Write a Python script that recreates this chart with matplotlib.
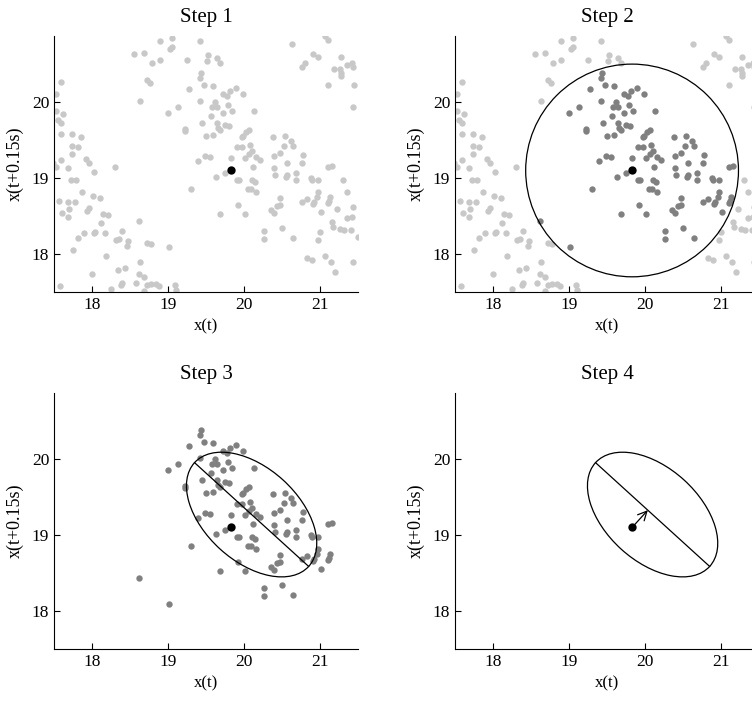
import numpy as np
import matplotlib
matplotlib.use("Agg")
import matplotlib.pyplot as plt
from matplotlib.patches import Circle, Ellipse, FancyArrowPatch

plt.rcParams['font.family'] = ['Liberation Serif', 'DejaVu Serif']

# delay-embedded trajectory points: (x(t), x(t+0.15s))
embedded = np.array([
    # left side
    (17.59,20.26),(17.52,20.10),(17.52,19.88),(17.62,19.84),(17.55,19.76),(17.59,19.72),
    (17.59,19.58),(17.74,19.58),(17.86,19.54),(17.74,19.42),(17.82,19.41),(17.74,19.32),
    (17.59,19.24),(17.92,19.25),(17.96,19.20),(17.49,19.20),(17.52,19.15),(17.68,19.13),
    (18.03,19.08),(18.30,19.15),(17.72,18.98),(17.79,18.97),(17.87,18.81),(18.01,18.77),
    (18.11,18.74),(17.56,18.70),(17.68,18.68),(17.77,18.69),(17.70,18.59),(17.60,18.54),
    (17.69,18.49),(17.93,18.56),(17.96,18.60),(18.15,18.53),(18.21,18.52),(18.12,18.41),
    (18.62,18.43),(17.75,18.05),(17.82,18.21),(17.89,18.28),(18.03,18.28),(18.04,18.29),
    (18.17,18.28),(18.40,18.30),(18.31,18.18),(18.35,18.20),(18.47,18.17),(18.46,18.10),
    (18.73,18.15),(18.77,18.13),(18.18,17.97),(18.00,17.74),(18.34,17.79),(18.44,17.82),
    (18.63,17.90),(18.62,17.74),(18.69,17.70),(18.40,17.62),(18.38,17.59),(18.58,17.62),
    (18.73,17.59),(18.77,17.61),(18.25,17.54),(18.69,17.51),(18.84,17.60),(18.88,17.58),
    (19.09,17.59),(19.11,17.52),(17.58,17.58),(19.01,18.09),
    # upper left-middle
    (18.55,20.63),(18.69,20.64),(18.79,20.51),(18.89,20.55),(18.73,20.29),(18.76,20.25),
    (18.63,20.02),(18.90,20.80),(19.05,20.85),(19.05,20.73),(19.03,20.70),(19.13,19.93),
    (19.00,19.85),
    # middle
    (19.42,20.80),(19.52,20.62),(19.51,20.54),(19.64,20.58),(19.69,20.51),(19.25,20.55),
    (19.44,20.38),(19.42,20.32),(19.48,20.23),(19.59,20.21),(19.27,20.17),(19.72,20.10),
    (19.78,20.08),(19.82,20.14),(19.89,20.18),(19.99,20.11),(19.42,20.01),(19.62,20.00),
    (19.58,19.93),(19.64,19.94),(19.79,19.96),(19.84,19.88),(19.73,19.86),(20.13,19.88),
    (19.57,19.82),(19.45,19.73),(19.64,19.73),(19.66,19.66),(19.68,19.63),(19.75,19.70),
    (19.80,19.68),(19.22,19.65),(19.22,19.62),(19.50,19.56),(19.59,19.57),(19.99,19.55),
    (20.02,19.61),(20.07,19.63),(19.97,19.54),(19.91,19.41),(19.97,19.41),(20.08,19.43),
    (20.10,19.35),(20.06,19.32),(20.01,19.26),(19.83,19.26),(19.49,19.29),(19.55,19.28),
    (19.39,19.22),(20.16,19.28),
    # lower middle
    (19.63,19.01),(19.75,19.06),(19.91,18.98),(19.93,18.97),(20.12,19.15),(20.10,18.98),
    (20.14,18.95),(20.05,18.85),(20.09,18.86),(20.16,18.82),(19.30,18.85),(19.92,18.64),
    (19.68,18.53),(20.01,18.53),
    # upper right
    (20.63,20.77),(21.07,20.87),(21.10,20.82),(20.91,20.63),(20.97,20.59),(20.76,20.46),
    (20.80,20.51),(21.27,20.59),(21.19,20.43),(21.26,20.43),(21.28,20.38),(21.28,20.35),
    (21.35,20.49),(21.42,20.51),(21.43,20.46),(21.11,20.22),(21.45,20.23),(21.44,19.93),
    # right middle
    (20.38,19.54),(20.54,19.55),(20.62,19.49),(20.64,19.42),(20.52,19.42),(20.47,19.33),
    (20.39,19.29),(20.21,19.24),(20.77,19.30),(20.76,19.20),(20.57,19.20),(20.40,19.13),
    (20.41,19.04),(20.56,19.04),(20.55,19.01),(20.69,19.06),(20.69,18.98),(20.88,19.00),
    (20.89,18.97),(20.98,18.98),(21.10,19.15),(21.16,19.16),(21.30,18.97),
    # lower right
    (20.48,18.74),(20.47,18.65),(20.43,18.63),(20.35,18.58),(20.40,18.54),(20.76,18.69),
    (20.83,18.72),(20.92,18.69),(20.91,18.66),(20.96,18.75),(20.98,18.81),(21.13,18.75),
    (21.10,18.67),(21.12,18.70),(21.01,18.55),(21.23,18.59),(21.36,18.81),(21.43,18.62),
    (21.16,18.42),(21.17,18.36),(21.26,18.33),(21.32,18.31),(21.36,18.47),(21.42,18.49),
    (21.41,18.32),(21.50,18.22),(20.26,18.30),(20.26,18.20),(20.50,18.34),(20.65,18.21),
    (21.00,18.29),(20.98,18.19),(20.83,17.95),(20.89,17.92),(21.06,17.97),(21.15,17.90),
    (21.44,17.90),(21.20,17.76),
])
x_t, x_lag = embedded[:, 0], embedded[:, 1]

ref_pt = (19.83, 19.10)      # current state
radius = 1.40                # neighbourhood radius
ell_center = (20.10, 19.27)  # fitted ellipse of neighbours
ell_width, ell_height, ell_angle = 2.03, 1.23, -42.3

light, dark = '#c8c8c8', '#808080'
dist = np.hypot(x_t - ref_pt[0], x_lag - ref_pt[1])
inside = dist < radius

# major axis of the ellipse and foot of perpendicular from ref point
th = np.deg2rad(ell_angle)
u = np.array([np.cos(th), np.sin(th)])
c = np.array(ell_center)
p0, p1 = c - u*ell_width/2, c + u*ell_width/2
foot = c + u*np.dot(np.array(ref_pt) - c, u)

fig = plt.figure(figsize=(7.52, 7.03), dpi=100)
W, H = 752, 703
boxes = [(54, 36), (455, 36), (54, 393), (455, 393)]
axs = [fig.add_axes([x0/W, 1-(y0+256)/H, 304/W, 256/H]) for x0, y0 in boxes]

for i, ax in enumerate(axs):
    ax.set_xlim(17.5, 21.5)
    ax.set_ylim(17.5, 20.87)
    ax.set_xticks([18, 19, 20, 21])
    ax.set_yticks([18, 19, 20])
    ax.spines['top'].set_visible(False)
    ax.spines['right'].set_visible(False)
    ax.tick_params(direction='in', length=4, labelsize=12.5, width=0.8)
    ax.set_xlabel('x(t)', fontsize=12, labelpad=4)
    ax.set_ylabel('x(t+0.15s)', fontsize=13, labelpad=6)
    ax.set_title('Step {}'.format(i+1), fontsize=15, pad=10)

s = 21
axs[0].scatter(x_t, x_lag, s=s, c=light, linewidths=0)
axs[1].scatter(x_t[~inside], x_lag[~inside], s=s, c=light, linewidths=0)
axs[1].scatter(x_t[inside], x_lag[inside], s=s, c=dark, linewidths=0)
axs[1].add_patch(Circle(ref_pt, radius, fill=False, lw=0.9, ec='k', zorder=3))
axs[2].scatter(x_t[inside], x_lag[inside], s=s, c=dark, linewidths=0)
for ax in axs[2:]:
    ax.add_patch(Ellipse(ell_center, ell_width, ell_height, angle=ell_angle,
                         fill=False, lw=0.9, ec='k', zorder=3))
    ax.plot([p0[0], p1[0]], [p0[1], p1[1]], color='k', lw=0.9, zorder=3)
axs[3].add_patch(FancyArrowPatch(ref_pt, foot, arrowstyle='->', mutation_scale=16,
                                 lw=0.9, color='k', shrinkA=0, shrinkB=0, zorder=4))
for ax in axs:
    ax.scatter([ref_pt[0]], [ref_pt[1]], s=36, c='k', linewidths=0, zorder=5)

fig.savefig('out.png', dpi=100)
